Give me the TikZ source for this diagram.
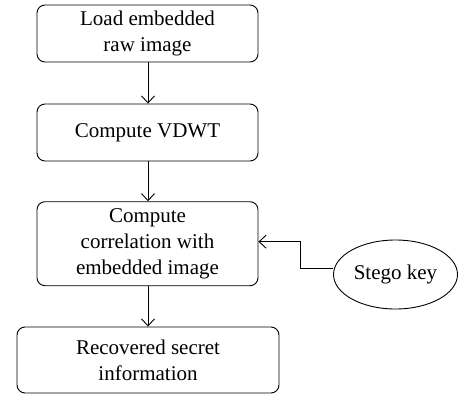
\documentclass[tikz,border=0pt]{standalone}
\usepackage{fontspec}
\setmainfont{Liberation Serif}
\usetikzlibrary{arrows.meta,shapes.geometric}
\begin{document}
\begin{tikzpicture}[x=1pt,y=-1pt,
  stepbox/.style={draw,line width=0.9pt,rounded corners=8pt,align=center,inner sep=0pt,
    font=\fontsize{21}{26}\selectfont},
  keynode/.style={draw,line width=0.9pt,ellipse,inner sep=0pt,font=\fontsize{21}{26}\selectfont},
  flow/.style={line width=0.9pt,-{Straight Barb[length=7pt,width=13pt,line width=0.9pt]}}]
\useasboundingbox (0,0) rectangle (458,394);
\node[stepbox,minimum width=221pt,minimum height=57pt] (load) at (147.5,33.5) {Load embedded\\raw image};
\node[stepbox,minimum width=221pt,minimum height=57pt] (vdwt) at (147.5,132.5) {Compute VDWT};
\node[stepbox,minimum width=221pt,minimum height=84pt] (corr) at (147.5,243.7) {Compute\\correlation with\\embedded image};
\node[stepbox,minimum width=262pt,minimum height=66pt] (rec) at (148,360) {Recovered secret\\information};
\node[keynode,minimum width=124pt,minimum height=69pt] (key) at (395.5,274.5) {Stego key};
\coordinate (bend) at (300,268);
\draw[flow] (load.south -| 148,0) -- (vdwt.north -| 148,0);
\draw[flow] (vdwt.south -| 148,0) -- (corr.north -| 148,0);
\draw[flow] (corr.south -| 148,0) -- (rec.north -| 148,0);
\draw[flow] (key.west |- bend) -- (bend) -- (300,241.7) -- (corr.east |- 0,241.7);
\end{tikzpicture}
\end{document}
